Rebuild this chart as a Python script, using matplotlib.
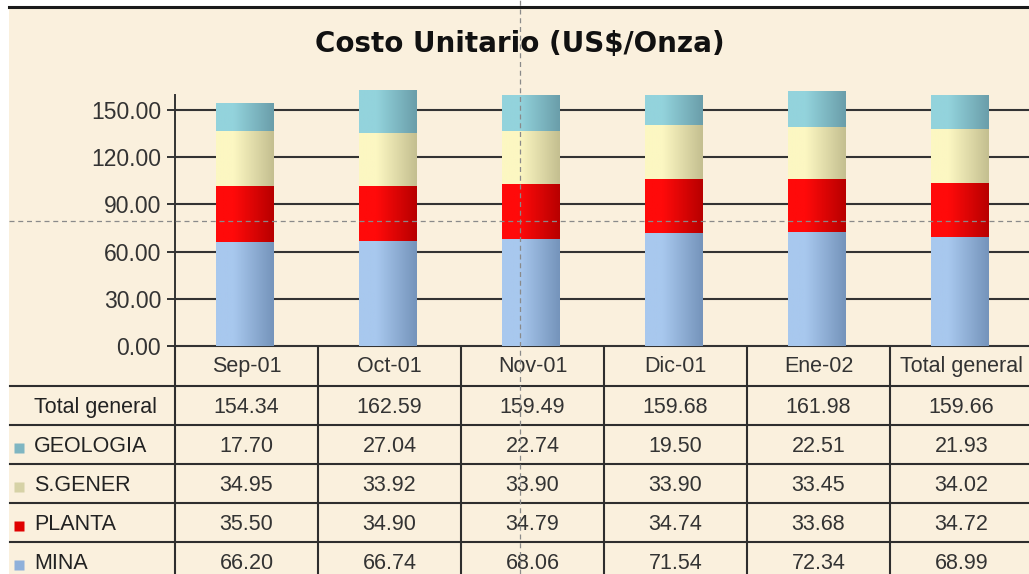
import numpy as np
import matplotlib
matplotlib.use("Agg")
import matplotlib.pyplot as plt
from matplotlib.colors import LinearSegmentedColormap
from matplotlib.lines import Line2D
from matplotlib.patches import Rectangle

plt.rcParams['font.family'] = ['Liberation Sans', 'DejaVu Sans']

# datos (US$/Onza)
meses = ["Sep-01", "Oct-01", "Nov-01", "Dic-01", "Ene-02", "Total general"]
mina = [66.20, 66.74, 68.06, 71.54, 72.34, 68.99]
planta = [35.50, 34.90, 34.79, 34.74, 33.68, 34.72]
sgener = [34.95, 33.92, 33.90, 33.90, 33.45, 34.02]
geologia = [17.70, 27.04, 22.74, 19.50, 22.51, 21.93]
total = [154.34, 162.59, 159.49, 159.68, 161.98, 159.66]
yticks = [0, 30, 60, 90, 120, 150]

# series from bottom to top, with (light, dark) colours for the shading + legend key colour
series = [("MINA", mina, "#a8c8ee", "#7594bb", "#8fb0da"),
          ("PLANTA", planta, "#ff0a0a", "#b80000", "#e00000"),
          ("S.GENER", sgener, "#fcf7c2", "#c4bf90", "#d6d2a6"),
          ("GEOLOGIA", geologia, "#93d3dc", "#6a9eaa", "#7fb6c2")]

W, H = 1029, 574
fig = plt.figure(figsize=(W / 100, H / 100), dpi=100)
fig.patch.set_facecolor("white")
bg = "#faf0dd"
fig.add_artist(Rectangle((9 / W, 0), 1, 1 - 8 / H, transform=fig.transFigure,
                         facecolor=bg, edgecolor="none", zorder=-10))
fig.add_artist(Line2D([9 / W, 1], [1 - 7 / H] * 2, transform=fig.transFigure,
                      color="#1a1a1a", lw=2.2))

# main chart axes: columns of 143 px starting at x=175
col_px = 143
x0_px = 175
ax_h_px = 346 - 86.4
ax = fig.add_axes([x0_px / W, (H - 346) / H, 6 * col_px / W, ax_h_px / H])
ax.set_facecolor("none")
x = np.arange(len(meses))

bottom = np.zeros(len(meses))
bw = 0.40
for name, vals, c1, c2, _ in series:
    cmap = LinearSegmentedColormap.from_list(name, [(0, c1), (0.3, c1), (1, c2)])
    grad = np.linspace(0, 1, 64).reshape(1, -1)
    bars = ax.bar(x - 0.015, vals, bw, bottom=bottom, color=c1, edgecolor="none", zorder=3)
    for b in bars:
        bx, by = b.get_x(), b.get_y()
        im = ax.imshow(grad, cmap=cmap, aspect="auto", zorder=3.5,
                       extent=[bx, bx + b.get_width(), by, by + b.get_height()])
        im.set_clip_path(b)
    bottom += np.array(vals)
ax.set_xlim(-0.5, 5.5)
ax.set_ylim(0, 165)

ax.set_yticks(yticks)
ax.set_yticklabels([f"{v:.2f}" for v in yticks], fontsize=16.5, color="#333333")
ax.tick_params(axis="y", length=6, width=1.4, color="#333333", pad=4)
ax.set_xticks([])
for v in yticks[1:]:
    ax.axhline(v, color="#333333", lw=1.5, zorder=1)
for s in ["top", "right"]:
    ax.spines[s].set_visible(False)
ax.spines["left"].set_bounds(0, 159.5)
ax.spines["left"].set_color("#333333")
ax.spines["left"].set_linewidth(1.4)
ax.spines["bottom"].set_color("#333333")
ax.spines["bottom"].set_linewidth(1.5)

fig.text(520 / W, 1 - 44 / H, "Costo Unitario (US$/Onza)", ha="center", va="center",
         fontsize=20, fontweight="bold", color="#111111", family="DejaVu Sans")

# data table under the chart
tax = fig.add_axes([x0_px / W, (H - 581) / H, 6 * col_px / W, 234 / H], sharex=ax)
tax.set_facecolor("none")
tax.set_ylim(6, 0)
tax.axis("off")
lc = "#2e2e2e"
left_x = -0.5 - (x0_px - 10) / col_px
for r in range(1, 7):
    tax.plot([left_x, 5.6], [r, r], color=lc, lw=1.5, clip_on=False)
for c in range(7):
    tax.plot([c - 0.5, c - 0.5], [0, 6], color=lc, lw=1.5, clip_on=False)

fs = 15.5
for i, m in enumerate(meses):
    tax.text(i, 0.5, m, ha="center", va="center", fontsize=fs, color="#333333", clip_on=False)

rows = [("Total general", total, None)] + [(n, v, key) for n, v, _, _, key in series[::-1]]
lab_x = -0.5 - (x0_px - 34) / col_px
key_x = -0.5 - (x0_px - 19) / col_px
for r, (name, vals, key) in enumerate(rows):
    yy = r + 1.55
    tax.text(lab_x, yy, name, ha="left", va="center", fontsize=fs, color="#222222", clip_on=False)
    if key:
        tax.plot([key_x], [yy + 0.03], marker="s", ms=6.5, color=key, mec="none", clip_on=False)
    for i, v in enumerate(vals):
        tax.text(i, yy, f"{v:.2f}", ha="center", va="center", fontsize=fs,
                 color="#333333", clip_on=False)
tax.set_xlim(-0.5, 5.5)

# dashed crosshair from the screenshot
fig.add_artist(Line2D([520 / W] * 2, [0, 1], transform=fig.transFigure,
                      color="#8a8a8a", lw=0.9, ls=(0, (4, 3)), zorder=20))
fig.add_artist(Line2D([9 / W, 1], [1 - 221 / H] * 2, transform=fig.transFigure,
                      color="#8a8a8a", lw=0.9, ls=(0, (4, 3)), zorder=20))

fig.savefig("out.png", dpi=100, facecolor=fig.get_facecolor())
